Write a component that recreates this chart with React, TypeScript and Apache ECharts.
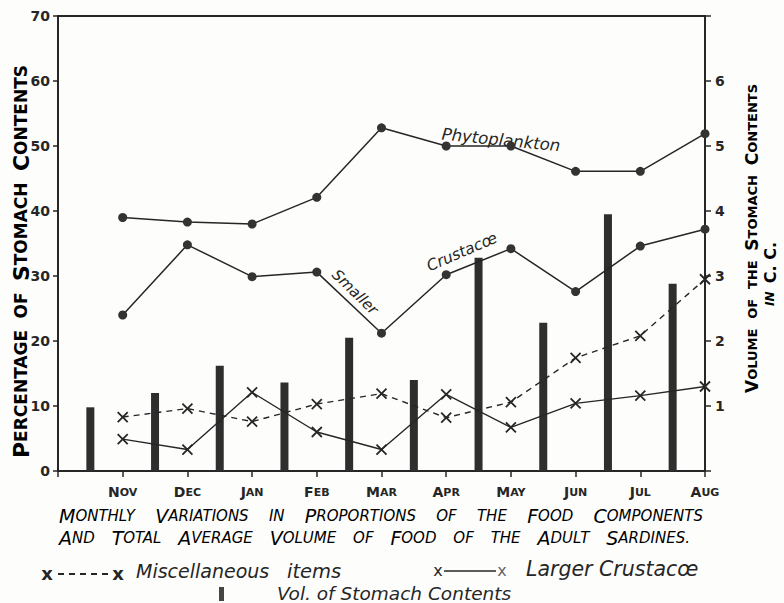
import React, { useEffect, useRef } from "react";
import * as echarts from "echarts";

const months = ["", "Nov", "Dec", "Jan", "Feb", "Mar", "Apr", "May", "Jun", "Jul", "Aug"];
const phytoplankton = [39.0, 38.3, 38.0, 42.1, 52.8, 50.0, 50.0, 46.1, 46.1, 51.9];
const smallerCrustacea = [24.0, 34.8, 29.9, 30.6, 21.2, 30.2, 34.2, 27.6, 34.6, 37.2];
const miscellaneous = [8.3, 9.6, 7.6, 10.3, 11.9, 8.2, 10.6, 17.4, 20.8, 29.5];
const largerCrustacea = [4.9, 3.3, 12.1, 6.0, 3.3, 11.8, 6.7, 10.4, 11.6, 13.0];
const stomachVolume = [0.98, 1.2, 1.62, 1.36, 2.05, 1.4, 3.28, 2.28, 3.95, 2.88];
const leftTicks = [0, 10, 20, 30, 40, 50, 60, 70];
const rightTickLabels = [1, 2, 3, 4, 5, 6];

const titleLine1 = ["Monthly", "Variations", "in", "Proportions", "of", "the", "Food", "Components"];
const titleLine2 = ["And", "Total", "Average", "Volume", "of", "Food", "of", "the", "Adult", "Sardines."];
const leftName = ["Percentage", "of", "Stomach", "Contents"];
const rightName = ["Volume", "of", "the", "Stomach", "Contents"];

const INK = "#262626";
const FONT = "DejaVu Sans";
const X_PATH = "path://M0,0L10,10M10,0L0,10";

function capsWord(w: string) {
  if (w === w.toLowerCase()) return `{b|${w.toUpperCase()}}`;
  return `{a|${w[0].toUpperCase()}}{b|${w.slice(1).toUpperCase()}}`;
}

let measureCtx: CanvasRenderingContext2D | null = null;
function textW(t: string, font: string) {
  if (!measureCtx) measureCtx = document.createElement("canvas").getContext("2d");
  if (!measureCtx) return t.length * 10;
  measureCtx.font = font;
  return measureCtx.measureText(t).width;
}
function wordW(w: string, fa: string, fb: string) {
  if (w === w.toLowerCase()) return textW(w.toUpperCase(), fb);
  return textW(w[0].toUpperCase(), fa) + textW(w.slice(1).toUpperCase(), fb);
}
function justify(words: string[], span: number, fa: string, fb: string) {
  const ws = words.map((w) => wordW(w, fa, fb));
  const total = ws.reduce((s, v) => s + v, 0);
  const gap = (span - total) / (words.length - 1);
  const out: { off: number; w: number }[] = [];
  let cur = 0;
  ws.forEach((w) => {
    out.push({ off: cur, w });
    cur += w + gap;
  });
  return out;
}

export default function App() {
  const ref = useRef<HTMLDivElement>(null);
  useEffect(() => {
    if (!ref.current) return;
    const chart = echarts.init(ref.current, undefined, { renderer: "svg" });
    const pts = (arr: number[]) => arr.map((v, i) => [i + 1, v]);

    const tA = 19, tB = 15;
    const titleRich = {
      a: { fontFamily: FONT, fontStyle: "italic", fontSize: tA, color: INK },
      b: { fontFamily: FONT, fontStyle: "italic", fontSize: tB, color: INK },
    };
    const lA = 22, lB = 17;
    const nameRich = {
      a: { fontFamily: FONT, fontWeight: "bold", fontSize: lA, color: INK },
      b: { fontFamily: FONT, fontWeight: "bold", fontSize: lB, color: INK },
    };
    const rA = 17, rB = 13;
    const rNameRich = {
      a: { fontFamily: FONT, fontWeight: "bold", fontSize: rA, color: INK },
      b: { fontFamily: FONT, fontWeight: "bold", fontSize: rB, color: INK },
    };
    const handItalic = { fontFamily: FONT, fontStyle: "italic", fill: INK } as any;

    const words: any[] = [];
    const tfa = `italic ${tA}px "${FONT}"`, tfb = `italic ${tB}px "${FONT}"`;
    justify(titleLine1, 703 - 59, tfa, tfb).forEach((p, i) =>
      words.push({
        type: "text",
        x: 59 + p.off,
        y: 516,
        style: { text: capsWord(titleLine1[i]), rich: titleRich, align: "left", verticalAlign: "middle" },
      })
    );
    justify(titleLine2, 690 - 59, tfa, tfb).forEach((p, i) =>
      words.push({
        type: "text",
        x: 59 + p.off,
        y: 538,
        style: { text: capsWord(titleLine2[i]), rich: titleRich, align: "left", verticalAlign: "middle" },
      })
    );
    const lfa = `bold ${lA}px "${FONT}"`, lfb = `bold ${lB}px "${FONT}"`;
    justify(leftName, 458 - 65, lfa, lfb).forEach((p, i) =>
      words.push({
        type: "text",
        x: 21,
        y: 458 - p.off - p.w / 2,
        rotation: Math.PI / 2,
        style: { text: capsWord(leftName[i]), rich: nameRich, align: "center", verticalAlign: "middle" },
      })
    );
    const rfa = `bold ${rA}px "${FONT}"`, rfb = `bold ${rB}px "${FONT}"`;
    justify(rightName, 393 - 84, rfa, rfb).forEach((p, i) =>
      words.push({
        type: "text",
        x: 752,
        y: 393 - p.off - p.w / 2,
        rotation: Math.PI / 2,
        style: { text: capsWord(rightName[i]), rich: rNameRich, align: "center", verticalAlign: "middle" },
      })
    );

    chart.setOption({
      animation: false,
      backgroundColor: "#fdfdfb",
      grid: {
        left: 58,
        right: 79,
        top: 16,
        bottom: 132,
        show: true,
        borderColor: INK,
        borderWidth: 2,
        backgroundColor: "transparent",
      },
      xAxis: {
        type: "value",
        min: 0,
        max: 10,
        interval: 1,
        splitLine: { show: false },
        axisLine: { show: true, lineStyle: { color: INK, width: 2 } },
        axisTick: { show: true, length: 6, lineStyle: { color: INK, width: 1.5 } },
        axisLabel: {
          margin: 14,
          formatter: (v: number) => {
            const m = months[Math.round(v)] || "";
            if (!m) return "";
            return `{a|${m[0].toUpperCase()}}{b|${m.slice(1).toUpperCase()}}`;
          },
          rich: {
            a: { fontFamily: FONT, fontWeight: "bold", fontSize: 14, color: INK },
            b: { fontFamily: FONT, fontWeight: "bold", fontSize: 11, color: INK },
          },
        },
      },
      yAxis: [
        {
          type: "value",
          min: 0,
          max: 70,
          interval: 10,
          splitLine: { show: false },
          axisLine: { show: true, lineStyle: { color: INK, width: 2 } },
          axisTick: { show: true, length: 5, lineStyle: { color: INK, width: 1.5 } },
          axisLabel: {
            margin: 8,
            fontFamily: FONT,
            fontWeight: "bold",
            fontSize: 14,
            color: INK,
            formatter: (v: number) => (leftTicks.includes(v) ? String(v) : ""),
          },
        },
        {
          type: "value",
          min: 0,
          max: 7,
          interval: 1,
          position: "right",
          splitLine: { show: false },
          axisLine: { show: true, lineStyle: { color: INK, width: 2 } },
          axisTick: { show: true, length: 6, lineStyle: { color: INK, width: 1.5 } },
          axisLabel: {
            margin: 10,
            fontFamily: FONT,
            fontWeight: "bold",
            fontSize: 14,
            color: INK,
            formatter: (v: number) => (rightTickLabels.includes(v) ? String(v) : ""),
          },
        },
      ],
      series: [
        {
          name: "Vol. of Stomach Contents",
          type: "bar",
          yAxisIndex: 1,
          barWidth: 8,
          itemStyle: { color: "#2e2e2e" },
          data: stomachVolume.map((v, i) => [i + 0.5, v]),
          z: 1,
        },
        {
          name: "Phytoplankton",
          type: "line",
          data: pts(phytoplankton),
          symbol: "circle",
          symbolSize: 9,
          itemStyle: { color: "#333" },
          lineStyle: { color: INK, width: 1.5 },
          z: 3,
        },
        {
          name: "Smaller Crustacœ",
          type: "line",
          data: pts(smallerCrustacea),
          symbol: "circle",
          symbolSize: 9,
          itemStyle: { color: "#333" },
          lineStyle: { color: INK, width: 1.5 },
          z: 3,
        },
        {
          name: "Miscellaneous items",
          type: "line",
          data: pts(miscellaneous),
          symbol: X_PATH,
          symbolSize: 10,
          itemStyle: { color: "none", borderColor: INK, borderWidth: 1.8 },
          lineStyle: { color: INK, width: 1.4, type: [6, 5] },
          z: 3,
        },
        {
          name: "Larger Crustacœ",
          type: "line",
          data: pts(largerCrustacea),
          symbol: X_PATH,
          symbolSize: 10,
          itemStyle: { color: "none", borderColor: INK, borderWidth: 1.8 },
          lineStyle: { color: INK, width: 1.4 },
          z: 3,
        },
      ],
      graphic: [
        ...words,
        {
          type: "text",
          x: 770,
          y: 274,
          rotation: Math.PI / 2,
          style: {
            text: "{b|IN  }{a|C. C.}",
            rich: {
              a: { fontFamily: FONT, fontWeight: "bold", fontSize: 16, color: INK },
              b: { fontFamily: FONT, fontWeight: "bold", fontStyle: "italic", fontSize: 12, color: INK },
            },
            align: "center",
            verticalAlign: "middle",
          },
        },
        {
          type: "text",
          x: 501,
          y: 140,
          rotation: -0.1,
          style: { ...handItalic, text: "Phytoplankton", fontSize: 16.5, align: "center", verticalAlign: "middle" },
        },
        {
          type: "text",
          x: 355,
          y: 292,
          rotation: -0.77,
          style: { ...handItalic, text: "Smaller", fontSize: 15, align: "center", verticalAlign: "middle" },
        },
        {
          type: "text",
          x: 462,
          y: 252,
          rotation: 0.41,
          style: { ...handItalic, text: "Crustacœ", fontSize: 15.5, align: "center", verticalAlign: "middle" },
        },
        {
          type: "text",
          x: 47,
          y: 573,
          style: { fontFamily: FONT, fontWeight: "bold", fill: INK, text: "x", fontSize: 18, align: "center", verticalAlign: "middle" },
        },
        {
          type: "line",
          shape: { x1: 58, y1: 574, x2: 108, y2: 574 },
          style: { stroke: INK, lineWidth: 1.8, lineDash: [6, 5] },
        },
        {
          type: "text",
          x: 118,
          y: 573,
          style: { fontFamily: FONT, fontWeight: "bold", fill: INK, text: "x", fontSize: 18, align: "center", verticalAlign: "middle" },
        },
        {
          type: "text",
          x: 136,
          y: 571,
          style: { ...handItalic, text: "Miscellaneous", fontSize: 19, verticalAlign: "middle" },
        },
        {
          type: "text",
          x: 287,
          y: 571,
          style: { ...handItalic, text: "items", fontSize: 19.5, verticalAlign: "middle" },
        },
        {
          type: "text",
          x: 438,
          y: 570,
          style: { fontFamily: FONT, fill: INK, text: "x", fontSize: 16, align: "center", verticalAlign: "middle" },
        },
        {
          type: "line",
          shape: { x1: 444, y1: 571, x2: 496, y2: 571 },
          style: { stroke: INK, lineWidth: 1.5 },
        },
        {
          type: "text",
          x: 502,
          y: 570,
          style: { fontFamily: FONT, fill: "#666", text: "x", fontSize: 16, align: "center", verticalAlign: "middle" },
        },
        {
          type: "text",
          x: 526,
          y: 569,
          style: { ...handItalic, text: "Larger Crustacœ", fontSize: 20.5, verticalAlign: "middle" },
        },
        {
          type: "rect",
          shape: { x: 219, y: 587, width: 5, height: 14 },
          style: { fill: "#444" },
        },
        {
          type: "text",
          x: 277,
          y: 593,
          style: { ...handItalic, text: "Vol. of Stomach Contents", fontSize: 18.5, verticalAlign: "middle" },
        },
      ],
    });
    return () => chart.dispose();
  }, []);
  return <div ref={ref} style={{ position: "fixed", left: 0, top: 0, width: 784, height: 603 }} />;
}
